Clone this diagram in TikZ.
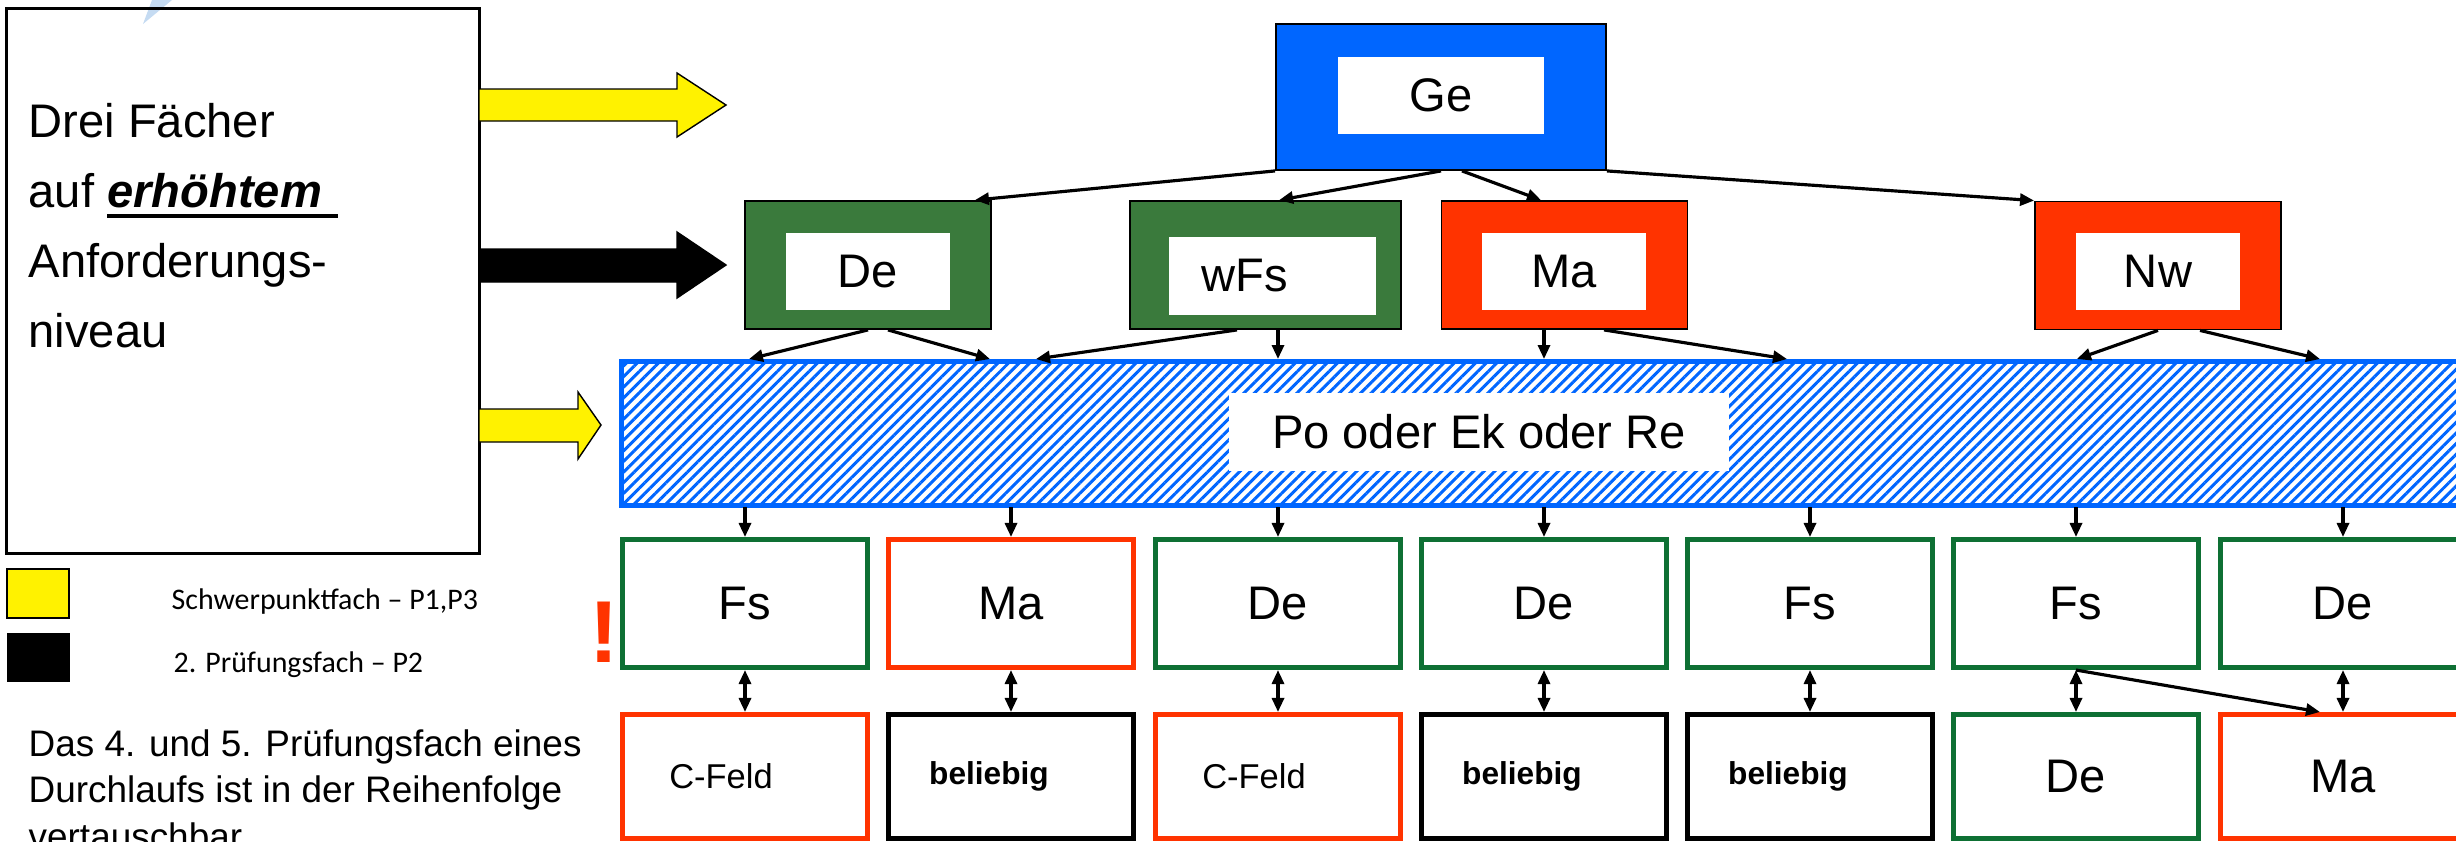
\documentclass[tikz,border=0pt]{standalone}
\usepackage{fontspec}
\setmainfont{Liberation Sans}
\newfontfamily\legendfont{Carlito}
\usetikzlibrary{arrows.meta,patterns.meta}
\definecolor{geblue}{HTML}{0066FF}
\definecolor{lkred}{HTML}{FF3300}
\definecolor{lkgreen}{HTML}{3A7A3C}
\definecolor{boxgreen}{HTML}{0E7034}
\definecolor{streak}{HTML}{C5DBF2}

\begin{document}
\begin{tikzpicture}
[
x=0.01cm, y=-0.01cm,
big/.style={font=\fontsize{13.4}{16}\selectfont},
frame/.style={draw=black, line width=0.5pt, minimum width=2.46cm, minimum height=1.28cm, inner sep=0},
inbox/.style={fill=white, minimum width=1.64cm, minimum height=0.77cm, inner sep=0, big},
fach/.style={draw, line width=0.05cm, minimum width=2.45cm, minimum height=1.28cm, inner sep=0, big},
feld/.style={draw, line width=0.05cm, minimum width=2.45cm, minimum height=1.24cm, inner sep=0},
klein/.style={font=\fontsize{9.8}{12}\selectfont, execute at begin node={\hspace*{-0.48cm}}},
fett/.style={font=\bfseries\fontsize{9}{11}\selectfont, execute at begin node={\hspace*{-0.44cm}}},
arr/.style={-{Triangle[length=0.14cm,width=0.12cm]}, line width=0.9pt},
dbl/.style={{Triangle[length=0.14cm,width=0.12cm]}-{Triangle[length=0.14cm,width=0.12cm]}, line width=0.9pt}
]
\useasboundingbox (0,0) rectangle (2456,841);
\fill[streak] (152,0) -- (172,0) -- (143,24) -- cycle;

%Legend box
\node[draw, line width=0.8pt, minimum width=4.72cm, minimum height=5.44cm, inner sep=0] (info) at (243,281) {};
% base of a multi-line node = last line
\node[anchor=base west, align=left, inner sep=0, font=\fontsize{13.4}{19.9}\selectfont] (infotext) at (28,347)
  {Drei Fächer\\auf \rlap{\rule[-0.11cm]{2.31cm}{0.04cm}}\textbf{\textit{erhöhtem}}\\Anforderungs-\\niveau};

\filldraw[fill=yellow, draw=black, line width=0.4pt] (479,89) -- (677,89) -- (677,73) -- (726,105) -- (677,137) -- (677,121) -- (479,121) -- cycle;
\filldraw[fill=black, draw=black, line width=0.4pt] (479,249) -- (677,249) -- (677,232) -- (726,265) -- (677,298) -- (677,282) -- (479,282) -- cycle;
\filldraw[fill=yellow, draw=black, line width=0.4pt] (479,409) -- (578,409) -- (578,392) -- (601,425) -- (578,459) -- (578,442) -- (479,442) -- cycle;

\node[draw, fill=yellow, line width=0.5pt, minimum width=0.62cm, minimum height=0.49cm, inner sep=0] (gelb) at (38,593.5) {};
\node[fill=black, minimum width=0.63cm, minimum height=0.49cm, inner sep=0] (schwarz) at (38.5,657.5) {};
\node[anchor=base west, inner sep=0, font=\legendfont\fontsize{8.5}{10}\selectfont] (gelbtext) at (171,609) {Schwerpunktfach – P1,P3};
\node[anchor=base west, inner sep=0, font=\legendfont\fontsize{8.5}{10}\selectfont] (schwarztext) at (173,672) {2. Prüfungsfach – P2};
\node[anchor=base west, align=left, inner sep=0, font=\fontsize{10.5}{13.1}\selectfont] (hinweis) at (28,849)
  {Das 4. und 5. Prüfungsfach eines\\Durchlaufs ist in der Reihenfolge\\vertauschbar};
\node[anchor=base west, inner sep=0, text=lkred, font=\bfseries\fontsize{25}{30}\selectfont] (achtung) at (589,662) {!};

%Nodes
\node[frame, fill=geblue, minimum width=3.30cm, minimum height=1.46cm] (Ge) at (1441,97) {};
\node[inbox, minimum width=2.05cm] (GeIn) at (1441,95.5) {Ge};

\node[frame, fill=lkgreen] (De) at (868,265) {};
\node[inbox] (DeIn) at (868,271.5) {De};
\node[frame, fill=lkgreen, minimum width=2.71cm] (wFs) at (1265.5,265) {};
\node[inbox, minimum width=2.07cm, minimum height=0.78cm] (wFsIn) at (1272.5,276) {\hspace*{-0.55cm}wFs};
\node[frame, fill=lkred] (Ma) at (1564.5,265) {};
\node[inbox] (MaIn) at (1564,271.5) {Ma};
\node[frame, fill=lkred] (Nw) at (2158,265.5) {};
\node[inbox] (NwIn) at (2158,271.5) {Nw};

\node[draw=geblue, line width=0.05cm, pattern={Lines[angle=45,distance=0.075cm,line width=0.03cm]}, pattern color=geblue,
  minimum width=18.6cm, minimum height=1.44cm, inner sep=0] (Wahl) at (1552,433.5) {};
\node[fill=white, minimum width=5.0cm, minimum height=0.78cm, inner sep=0, big] (WahlText) at (1479,432) {Po oder Ek oder Re};

\node[fach, draw=boxgreen] (r2a) at (745,603.5) {Fs};
\node[fach, draw=lkred]    (r2b) at (1011,603.5) {Ma};
\node[fach, draw=boxgreen] (r2c) at (1278,603.5) {De};
\node[fach, draw=boxgreen] (r2d) at (1544,603.5) {De};
\node[fach, draw=boxgreen] (r2e) at (1810,603.5) {Fs};
\node[fach, draw=boxgreen] (r2f) at (2076,603.5) {Fs};
\node[fach, draw=boxgreen] (r2g) at (2343,603.5) {De};

\node[feld, draw=lkred, klein]  (r3a) at (745,776.5) {C-Feld};
\node[feld, draw=black, fett]   (r3b) at (1011,776.5) {beliebig};
\node[feld, draw=lkred, klein]  (r3c) at (1278,776.5) {C-Feld};
\node[feld, draw=black, fett]   (r3d) at (1544,776.5) {beliebig};
\node[feld, draw=black, fett]   (r3e) at (1810,776.5) {beliebig};
\node[feld, draw=boxgreen, big] (r3f) at (2076,776.5) {\raisebox{-0.07cm}{De}};
\node[feld, draw=lkred, big]    (r3g) at (2343,776.5) {\raisebox{-0.07cm}{Ma}};

\coordinate (w1) at (749,359);
\coordinate (w2) at (990,359);
\coordinate (w3) at (1036,359);
\coordinate (w4) at (1278,359);
\coordinate (w5) at (1544,359);
\coordinate (w6) at (1787,359);
\coordinate (w7) at (2077,359);
\coordinate (w8) at (2320,359);

%Lines
\path[arr]
(Ge.south west)               edge ([xshift=-0.17cm]De.north east)
(Ge.south)                    edge ([xshift=1.5cm]wFs.north west)
([xshift=0.21cm]Ge.south)     edge ([xshift=-0.235cm]Ma.north)
(Ge.south east)               edge (Nw.north west)
(De.south)                    edge (w1)
([xshift=0.2cm]De.south)      edge (w2)
([xshift=-0.285cm]wFs.south)  edge (w3)
(w4 |- wFs.south)             edge (w4)
(w5 |- Ma.south)              edge (w5)
([xshift=0.395cm]Ma.south)    edge (w6)
(Nw.south)                    edge (w7)
([xshift=0.42cm]Nw.south)     edge (w8);

\foreach \n in {a,...,g}{
  \draw[arr] (r2\n |- Wahl.south) -- (r2\n.north);
  \draw[dbl] (r2\n.south) -- (r3\n.north);
}
\draw[arr] (r2f.south) -- ([xshift=-0.23cm]r3g.north);

\end{tikzpicture}
\end{document}
